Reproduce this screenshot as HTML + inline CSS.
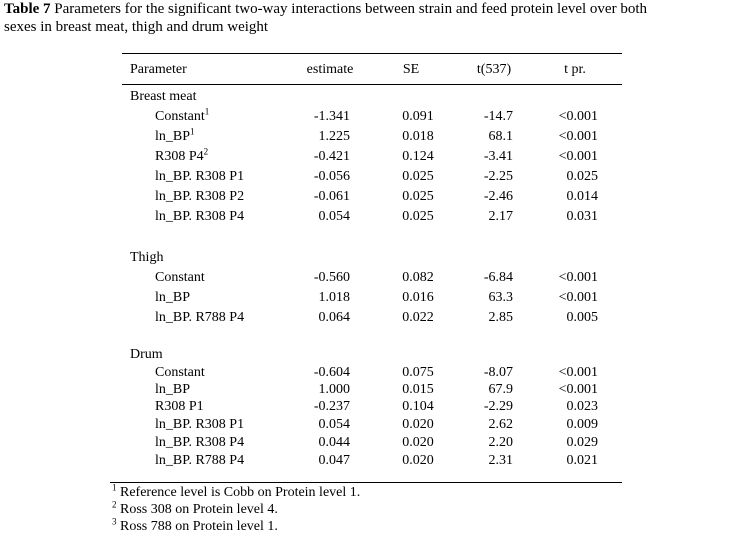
<!DOCTYPE html>
<html><head><meta charset="utf-8"><style>
body{margin:0;width:744px;height:538px;background:#fff;font-family:"Liberation Serif",serif;color:#000;position:relative;overflow:hidden}
div{position:absolute;white-space:nowrap}
.t{font-size:14px;line-height:16px}
.rule{background:#000;height:1px}
sup{font-size:9px;line-height:0}
</style></head><body>
<div style="left:4px;top:0px;font-size:15px;line-height:18px"><b>Table 7</b> Parameters for the significant two-way interactions between strain and feed protein level over both</div>
<div style="left:4px;top:18px;font-size:15px;line-height:18px">sexes in breast meat, thigh and drum weight</div>
<div class="rule" style="left:122px;top:53px;width:500px"></div>
<div class="rule" style="left:122px;top:84px;width:500px"></div>
<div class="rule" style="left:110px;top:482px;width:512px"></div>
<div id="tbl" style="left:0;top:0;width:744px;height:538px"></div>
<div class="t" style="left:112px;top:485px"><sup>1</sup> Reference level is Cobb on Protein level 1.</div>
<div class="t" style="left:112px;top:502px"><sup>2</sup> Ross 308 on Protein level 4.</div>
<div class="t" style="left:112px;top:519px"><sup>3</sup> Ross 788 on Protein level 1.</div>
<script>
const rows=[
[62,'Parameter','estimate','SE','t(537)','t pr.','h'],
[89,'Breast meat','','','','','g'],
[109,'Constant<sup>1</sup>','-1.341','0.091','-14.7','<0.001'],
[129,'ln_BP<sup>1</sup>','1.225','0.018','68.1','<0.001'],
[149,'R308 P4<sup>2</sup>','-0.421','0.124','-3.41','<0.001'],
[169,'ln_BP. R308 P1','-0.056','0.025','-2.25','0.025'],
[189,'ln_BP. R308 P2','-0.061','0.025','-2.46','0.014'],
[209,'ln_BP. R308 P4','0.054','0.025','2.17','0.031'],
[250,'Thigh','','','','','g'],
[270,'Constant','-0.560','0.082','-6.84','<0.001'],
[290,'ln_BP','1.018','0.016','63.3','<0.001'],
[310,'ln_BP. R788 P4','0.064','0.022','2.85','0.005'],
[347,'Drum','','','','','g'],
[365,'Constant','-0.604','0.075','-8.07','<0.001'],
[382,'ln_BP','1.000','0.015','67.9','<0.001'],
[399,'R308 P1','-0.237','0.104','-2.29','0.023'],
[417,'ln_BP. R308 P1','0.054','0.020','2.62','0.009'],
[435,'ln_BP. R308 P4','0.044','0.020','2.20','0.029'],
[453,'ln_BP. R788 P4','0.047','0.020','2.31','0.021']];
const tb=document.getElementById('tbl');
rows.forEach(r=>{
 const [y,p,e,s,t,pr,k]=r;
 const mk=(html,style,name)=>{const d=document.createElement('div');d.className='t';d.innerHTML=html;d.style.cssText=style+';top:'+y+'px';
 
 
 tb.appendChild(d);};
 const x=(k==='h'||k==='g')?130:155;
 mk(p,'left:'+x+'px',k==='h'?'header-parameter':(k==='g'?'group-label':'parameter-cell'));
 if(k==='g')return;
 if(k==='h'){
  mk(e,'left:290px;width:80px;text-align:center','header-estimate');
  mk(s,'left:381px;width:60px;text-align:center','header-se');
  mk(t,'left:464px;width:60px;text-align:center','header-t');
  mk(pr,'left:545px;width:60px;text-align:center','header-tpr');
  return;}
 mk(e,'left:270px;width:80px;text-align:right','estimate-cell');
 mk(s,'left:388px;width:60px;text-align:center','se-cell');
 mk(t,'left:433px;width:80px;text-align:right','t-cell');
 mk(pr.replace('<','&lt;'),'left:518px;width:80px;text-align:right','tpr-cell');
});
</script>
</body></html>
